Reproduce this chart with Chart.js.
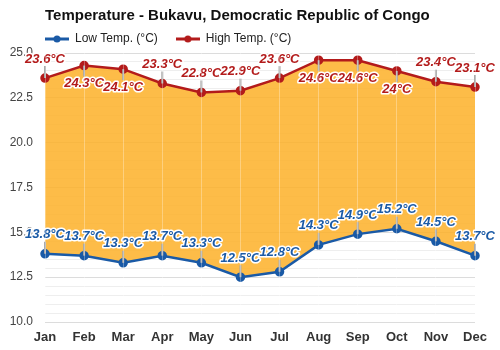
<!DOCTYPE html>
<html>
<head>
<meta charset="utf-8">
<script src="https://cdn.jsdelivr.net/npm/chart.js@4"></script>
<style>
  html, body { margin: 0; padding: 0; background: #fff; }
  #wrap { width: 500px; height: 350px; }
</style>
</head>
<body>
<div id="wrap"><canvas id="temps"></canvas></div>
<script>
const months = ["Jan", "Feb", "Mar", "Apr", "May", "Jun", "Jul", "Aug", "Sep", "Oct", "Nov", "Dec"];
const lowTemps = [13.8, 13.7, 13.3, 13.7, 13.3, 12.5, 12.8, 14.3, 14.9, 15.2, 14.5, 13.7];
const highTemps = [23.6, 24.3, 24.1, 23.3, 22.8, 22.9, 23.6, 24.6, 24.6, 24, 23.4, 23.1];

const lowColor = "#1a5aa6";
const highColor = "#b31b1b";
const legendPad = 18;

// little line + dot swatch for the legend
function swatch(color) {
  const c = document.createElement("canvas");
  c.width = 24; c.height = 10;
  const g = c.getContext("2d");
  g.strokeStyle = color; g.lineWidth = 3;
  g.beginPath(); g.moveTo(0, 5); g.lineTo(24, 5); g.stroke();
  g.fillStyle = color;
  g.beginPath(); g.arc(12, 5, 3.5, 0, Math.PI * 2); g.fill();
  return c;
}

// value labels with a grey leader line, pushed below the point near the top edge
const valueLabels = {
  id: "valueLabels",
  beforeInit(chart) {
    const fit = chart.legend.fit;
    chart.legend.fit = function () { fit.call(this); this.height = 25; };
  },
  afterLayout(chart) {
    // pull the legend flush with the plot's left edge
    chart.legend.left -= legendPad;
    chart.legend.top -= legendPad - 5;
  },
  afterDatasetsDraw(chart) {
    const ctx = chart.ctx;
    const top = chart.chartArea.top;
    ctx.save();
    ctx.font = "italic bold 13px 'Liberation Sans', Arial, sans-serif";
    ctx.textAlign = "center";
    ctx.textBaseline = "middle";
    chart.data.datasets.forEach((ds, i) => {
      const meta = chart.getDatasetMeta(i);
      meta.data.forEach((pt, j) => {
        const below = pt.y - 20 < top;
        const ly = below ? pt.y + 18 : pt.y - 19;
        ctx.strokeStyle = "#aaaaaa";
        ctx.lineWidth = 2;
        ctx.beginPath();
        ctx.moveTo(pt.x, pt.y);
        ctx.lineTo(pt.x, below ? ly - 7 : ly + 7);
        ctx.stroke();
        const txt = ds.data[j] + "°C";
        ctx.lineWidth = 3;
        ctx.lineJoin = "round";
        ctx.strokeStyle = "#ffffff";
        ctx.strokeText(txt, pt.x, ly);
        ctx.fillStyle = ds.borderColor;
        ctx.fillText(txt, pt.x, ly);
      });
    });
    ctx.restore();
  }
};

new Chart(document.getElementById("temps"), {
  type: "line",
  data: {
    labels: months,
    datasets: [
      {
        label: "Low Temp. (°C)",
        data: lowTemps,
        borderColor: lowColor,
        backgroundColor: lowColor,
        borderWidth: 2.5,
        pointRadius: 3.5,
        pointHoverRadius: 3.5,
        tension: 0,
        fill: false
      },
      {
        label: "High Temp. (°C)",
        data: highTemps,
        borderColor: highColor,
        backgroundColor: highColor,
        borderWidth: 2.5,
        pointRadius: 3.5,
        pointHoverRadius: 3.5,
        tension: 0,
        fill: { target: 0, above: "rgba(253,176,40,0.85)", below: "rgba(253,176,40,0.85)" }
      }
    ]
  },
  options: {
    responsive: true,
    maintainAspectRatio: false,
    animation: false,
    layout: { padding: { right: 25, left: 0, bottom: 0 } },
    plugins: {
      tooltip: { enabled: false },
      title: {
        display: true,
        text: "Temperature - Bukavu, Democratic Republic of Congo",
        align: "start",
        fullSize: false,
        color: "#111",
        font: { family: "'Liberation Sans', Arial, sans-serif", size: 15, weight: "bold" },
        padding: { top: 7, bottom: 3 }
      },
      legend: {
        align: "start",
        fullSize: false,
        labels: {
          usePointStyle: true,
          pointStyleWidth: 24,
          padding: legendPad,
          color: "#222",
          font: { family: "'Liberation Sans', Arial, sans-serif", size: 12 },
          generateLabels(chart) {
            return chart.data.datasets.map((ds, i) => ({
              text: ds.label,
              pointStyle: swatch(ds.borderColor),
              fillStyle: ds.borderColor,
              strokeStyle: ds.borderColor,
              lineWidth: 0,
              fontColor: "#222",
              datasetIndex: i,
              hidden: false
            }));
          }
        }
      }
    },
    scales: {
      x: {
        offset: false,
        grid: { color: "rgba(255,255,255,0.3)", drawTicks: false, z: 1 },
        border: { display: false },
        ticks: {
          color: "#333",
          padding: 8,
          font: { family: "'Liberation Sans', Arial, sans-serif", size: 13, weight: "bold" }
        },
        afterFit(scale) { scale.height = 28; }
      },
      y: {
        min: 10,
        max: 25,
        border: { display: false },
        grid: {
          drawTicks: false,
          color: (c) => (c.tick && Math.abs(c.tick.value % 2.5) < 1e-6 ? "#dcdcdc" : "#eeeeee")
        },
        ticks: {
          stepSize: 0.5,
          autoSkip: false,
          padding: 12,
          color: "#444",
          font: { family: "'Liberation Sans', Arial, sans-serif", size: 12 },
          callback: (v) => (Math.abs(v % 2.5) < 1e-6 ? v.toFixed(1) : "")
        },
        afterFit(scale) { scale.width = 45; }
      }
    }
  },
  plugins: [valueLabels]
});
</script>
</body>
</html>
